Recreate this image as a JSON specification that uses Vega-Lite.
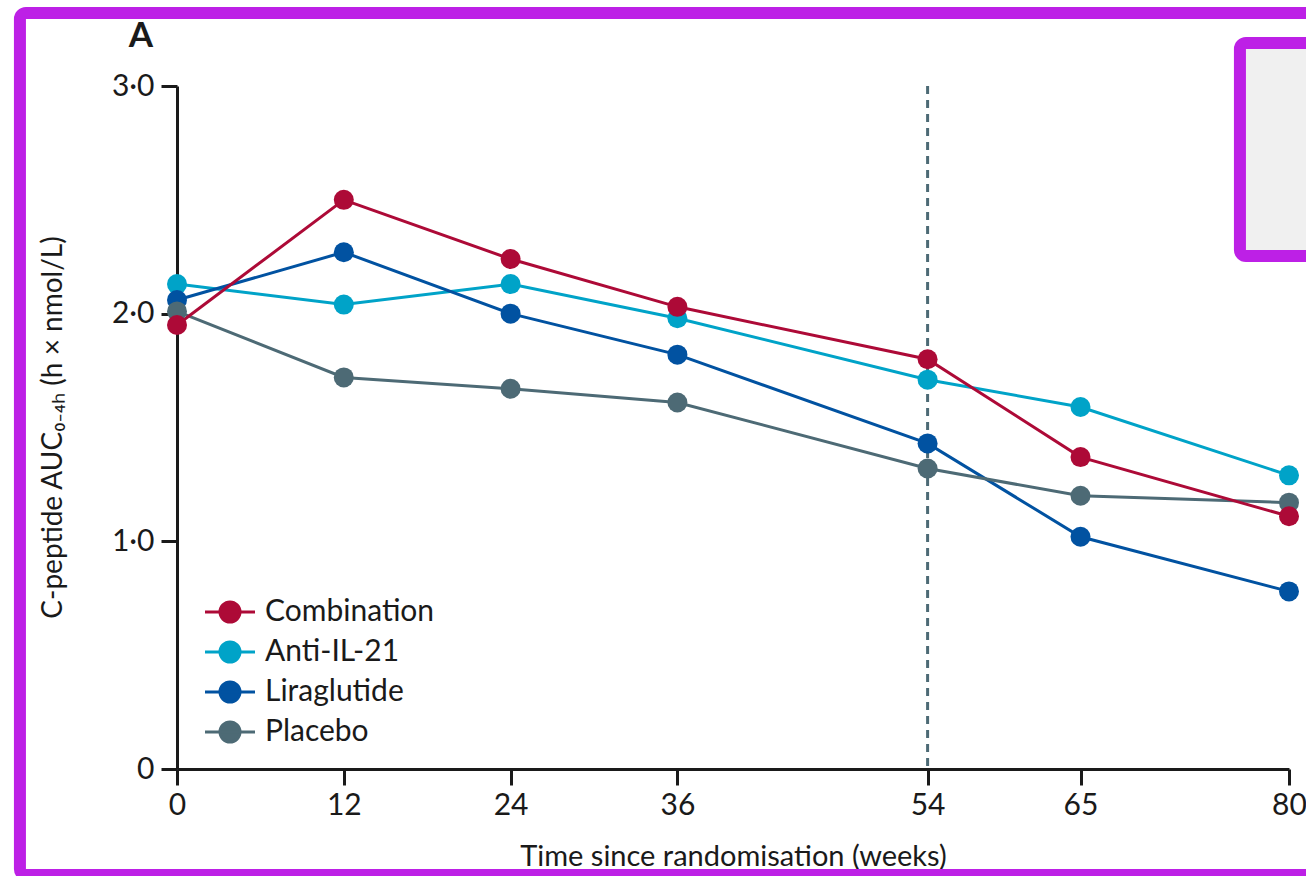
{
  "$schema": "https://vega.github.io/schema/vega-lite/v6.json",
  "width": 1112,
  "height": 683,
  "autosize": {"type": "none"},
  "padding": {"left": 177, "top": 86, "right": 17, "bottom": 107},
  "background": "white",
  "config": {"view": {"stroke": null}, "font": "Lato"},
  "layer": [
    {
      "data": {"values": [{}]},
      "mark": {"type": "rect", "fill": null, "stroke": "#bd20e6", "strokeWidth": 12, "cornerRadius": 6, "clip": false},
      "encoding": {
        "x": {"datum": -11.3, "type": "quantitative", "scale": {"domain": [0, 80], "nice": false}},
        "x2": {"datum": 84},
        "y": {"datum": 3.321, "type": "quantitative", "scale": {"domain": [0, 3], "nice": false}},
        "y2": {"datum": -0.466}
      }
    },
    {
      "data": {"values": [{}]},
      "mark": {"type": "rect", "fill": "#f0f0f0", "stroke": "#bd20e6", "strokeWidth": 12, "cornerRadius": 6, "clip": false},
      "encoding": {
        "x": {"datum": 76.47, "type": "quantitative", "scale": {"domain": [0, 80], "nice": false}},
        "x2": {"datum": 90},
        "y": {"datum": 3.189, "type": "quantitative", "scale": {"domain": [0, 3], "nice": false}},
        "y2": {"datum": 2.253}
      }
    },
    {
      "data": {"values": [{"label": "A"}]},
      "mark": {"type": "text", "fontSize": 35, "fontWeight": "bold", "font": "Lato", "color": "#1a1a1a", "align": "center", "baseline": "alphabetic", "clip": false},
      "encoding": {
        "x": {"datum": -2.59, "type": "quantitative", "scale": {"domain": [0, 80], "nice": false}},
        "y": {"datum": 3.172, "type": "quantitative", "scale": {"domain": [0, 3], "nice": false}},
        "text": {"field": "label"}
      }
    },
    {
      "data": {"values": [{}]},
      "mark": {"type": "rule", "stroke": "#4d6a75", "strokeWidth": 3, "strokeDash": [8, 6]},
      "encoding": {
        "x": {"datum": 54, "type": "quantitative", "scale": {"domain": [0, 80], "nice": false}}
      }
    },
    {
      "data": {"name": "series", "values": [
        {"week": 0, "group": "Anti-IL-21", "value": 2.13},
        {"week": 12, "group": "Anti-IL-21", "value": 2.04},
        {"week": 24, "group": "Anti-IL-21", "value": 2.13},
        {"week": 36, "group": "Anti-IL-21", "value": 1.98},
        {"week": 54, "group": "Anti-IL-21", "value": 1.71},
        {"week": 65, "group": "Anti-IL-21", "value": 1.59},
        {"week": 80, "group": "Anti-IL-21", "value": 1.29},
        {"week": 0, "group": "Liraglutide", "value": 2.06},
        {"week": 12, "group": "Liraglutide", "value": 2.27},
        {"week": 24, "group": "Liraglutide", "value": 2.0},
        {"week": 36, "group": "Liraglutide", "value": 1.82},
        {"week": 54, "group": "Liraglutide", "value": 1.43},
        {"week": 65, "group": "Liraglutide", "value": 1.02},
        {"week": 80, "group": "Liraglutide", "value": 0.78},
        {"week": 0, "group": "Placebo", "value": 2.01},
        {"week": 12, "group": "Placebo", "value": 1.72},
        {"week": 24, "group": "Placebo", "value": 1.67},
        {"week": 36, "group": "Placebo", "value": 1.61},
        {"week": 54, "group": "Placebo", "value": 1.32},
        {"week": 65, "group": "Placebo", "value": 1.2},
        {"week": 80, "group": "Placebo", "value": 1.17},
        {"week": 0, "group": "Combination", "value": 1.95},
        {"week": 12, "group": "Combination", "value": 2.5},
        {"week": 24, "group": "Combination", "value": 2.24},
        {"week": 36, "group": "Combination", "value": 2.03},
        {"week": 54, "group": "Combination", "value": 1.8},
        {"week": 65, "group": "Combination", "value": 1.37},
        {"week": 80, "group": "Combination", "value": 1.11}
      ]},
      "layer": [
        {"mark": {"type": "line", "strokeWidth": 3}},
        {"mark": {"type": "point", "filled": true, "size": 400, "opacity": 1}}
      ],
      "encoding": {
        "x": {
          "field": "week", "type": "quantitative",
          "scale": {"domain": [0, 80], "nice": false},
          "axis": {
            "title": "Time since randomisation (weeks)",
            "values": [0, 12, 24, 36, 54, 65, 80],
            "grid": false,
            "domainColor": "#1a1a1a", "domainWidth": 3,
            "tickColor": "#1a1a1a", "tickWidth": 3, "tickSize": 16,
            "labelFont": "Lato", "labelFontSize": 30, "labelColor": "#1a1a1a", "labelPadding": 5,
            "labelFlush": false, "labelOverlap": false,
            "titleFont": "Lato", "titleFontSize": 29, "titleFontWeight": "normal", "titleColor": "#1a1a1a",
            "titleBaseline": "alphabetic", "titleY": 96
          }
        },
        "y": {
          "field": "value", "type": "quantitative",
          "scale": {"domain": [0, 3], "nice": false},
          "axis": {
            "title": "C-peptide AUC₀₋₄ₕ (h × nmol/L)",
            "values": [0, 1, 2, 3],
            "labelExpr": "datum.value == 0 ? '0' : replace(format(datum.value, '.1f'), '.', '·')",
            "grid": false,
            "domainColor": "#1a1a1a", "domainWidth": 3,
            "tickColor": "#1a1a1a", "tickWidth": 3, "tickSize": 16,
            "labelFont": "Lato", "labelFontSize": 30, "labelColor": "#1a1a1a", "labelPadding": 7,
            "labelFlush": false, "labelOverlap": false,
            "titleFont": "Lato", "titleFontSize": 28, "titleFontWeight": "normal", "titleColor": "#1a1a1a",
            "titleBaseline": "alphabetic", "titleAngle": -90, "titleX": -116, "titleY": 341, "titleAlign": "center"
          }
        },
        "color": {
          "field": "group", "type": "nominal",
          "scale": {
            "domain": ["Combination", "Anti-IL-21", "Liraglutide", "Placebo"],
            "range": ["#ad0a37", "#00a3c8", "#0152a1", "#4d6a75"]
          },
          "legend": {
            "orient": "none", "legendX": 38, "legendY": 511,
            "title": null, "padding": 0,
            "symbolType": "M-2.5,0L2.5,0M-1,0A1,1,0,1,1,1,0A1,1,0,1,1,-1,0Z",
            "symbolSize": 400, "symbolStrokeWidth": 3,
            "labelFont": "Lato", "labelFontSize": 30, "labelColor": "#1a1a1a", "labelOffset": 20,
            "labelLimit": 400,
            "rowPadding": 8,
            "encode": {
              "symbols": {
                "update": {
                  "fill": {"scale": "color", "field": "value"},
                  "stroke": {"scale": "color", "field": "value"},
                  "opacity": {"value": 1}
                }
              }
            }
          }
        }
      }
    }
  ]
}
